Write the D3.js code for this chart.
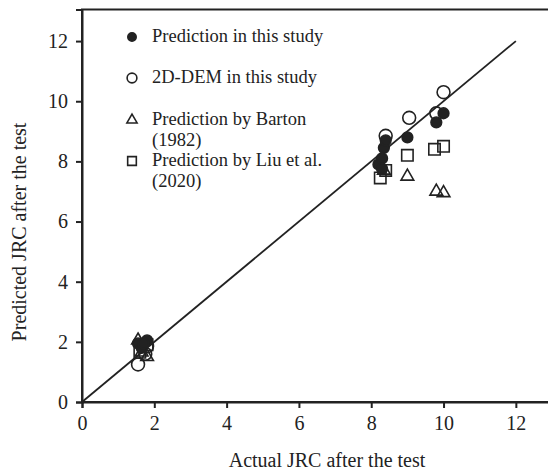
<!DOCTYPE html>
<html>
<head>
<meta charset="utf-8">
<script src="https://cdn.jsdelivr.net/npm/d3@7/dist/d3.min.js"></script>
<style>
  html, body { margin: 0; padding: 0; background: #ffffff; }
  svg { display: block; }
  text { font-family: "Liberation Serif", "Times New Roman", serif; fill: #222; }
</style>
</head>
<body>
<script>
// Actual vs predicted JRC after the shear test
const xTicks = [0, 2, 4, 6, 8, 10, 12];
const yTicks = [0, 2, 4, 6, 8, 10, 12];

// [actual JRC, predicted JRC]
const predThisStudy = [
  [1.55, 1.95], [1.65, 1.8], [1.8, 2.05], [1.7, 1.95],
  [8.2, 7.9], [8.3, 8.1], [8.35, 8.45], [8.4, 8.7], [8.3, 7.75],
  [9.0, 8.8], [9.8, 9.3], [10.0, 9.6]
];
const dem2D = [
  [1.55, 1.25], [1.75, 1.6], [1.8, 1.85],
  [8.4, 8.85], [9.05, 9.45], [9.8, 9.6], [10.0, 10.3]
];
const barton = [
  [1.55, 2.05], [1.8, 1.5], [1.65, 1.65],
  [8.35, 7.7], [9.0, 7.5], [9.8, 7.0], [10.0, 6.95]
];
const liu = [
  [1.6, 1.65], [1.8, 1.9],
  [8.25, 7.45], [8.4, 7.7], [9.0, 8.2], [9.75, 8.4], [10.0, 8.5]
];
const legendLabels = [
  ["Prediction in this study"],
  ["2D-DEM in this study"],
  ["Prediction by Barton", "(1982)"],
  ["Prediction by Liu et al.", "(2020)"]
];
const unityLine = [[0, 0], [12, 12]];

const W = 548, H = 476;
const ink = "#222";

const svg = d3.select("body").append("svg")
  .attr("width", W).attr("height", H);

const x = d3.scaleLinear().domain([0, 13]).range([82, 552]);
const y = d3.scaleLinear().domain([0, 13.05]).range([402, 9.5]);

// frame
svg.append("rect")
  .attr("x", x(0)).attr("y", y(13.05))
  .attr("width", x(13) - x(0)).attr("height", y(0) - y(13.05))
  .attr("fill", "none").attr("stroke", ink).attr("stroke-width", 2);

// axes
const xAxis = svg.append("g")
  .attr("transform", `translate(0,${y(0)})`)
  .call(d3.axisBottom(x).tickValues(xTicks).tickFormat(d3.format("d")).tickSize(6).tickPadding(8));
const yAxis = svg.append("g")
  .attr("transform", `translate(${x(0)},0)`)
  .call(d3.axisLeft(y).tickValues(yTicks).tickFormat(d3.format("d")).tickSize(6).tickPadding(8));

[xAxis, yAxis].forEach(g => {
  g.select(".domain").attr("stroke", ink).attr("stroke-width", 2);
  g.selectAll(".tick line").attr("stroke", ink).attr("stroke-width", 2);
  g.selectAll(".tick text")
    .attr("font-family", "Liberation Serif, Times New Roman, serif")
    .attr("font-size", 20).attr("fill", ink);
});

// 1:1 line
svg.append("path")
  .datum(unityLine)
  .attr("d", d3.line().x(d => x(d[0])).y(d => y(d[1])))
  .attr("stroke", ink).attr("stroke-width", 1.8).attr("fill", "none");

// marker drawers
const sym = (type, size) => d3.symbol().type(type).size(size);

function drawSeries(data, type, size, filled) {
  svg.append("g").selectAll("path")
    .data(data).enter().append("path")
    .attr("transform", d => `translate(${x(d[0])},${y(d[1])})`)
    .attr("d", sym(type, size)())
    .attr("fill", filled ? ink : "#fff")
    .attr("fill-opacity", filled ? 1 : 0)
    .attr("stroke", ink)
    .attr("stroke-width", 1.6);
}

drawSeries(liu, d3.symbolSquare, 130, false);
drawSeries(barton, d3.symbolTriangle, 70, false);
drawSeries(dem2D, d3.symbolCircle, 130, false);
drawSeries(predThisStudy, d3.symbolCircle, 90, true);

// legend
const legendSyms = [
  { type: d3.symbolCircle, size: 55, filled: true, y: 37 },
  { type: d3.symbolCircle, size: 75, filled: false, y: 78 },
  { type: d3.symbolTriangle, size: 45, filled: false, y: 120 },
  { type: d3.symbolSquare, size: 75, filled: false, y: 161 }
];
const lg = svg.append("g");
legendSyms.forEach((s, i) => {
  lg.append("path")
    .attr("transform", `translate(132,${s.y})`)
    .attr("d", sym(s.type, s.size)())
    .attr("fill", s.filled ? ink : "none")
    .attr("stroke", ink).attr("stroke-width", 1.6);
  legendLabels[i].forEach((t, j) => {
    lg.append("text")
      .attr("x", 152).attr("y", s.y + 5 + j * 21)
      .attr("font-size", 18.5)
      .text(t);
  });
});

// axis titles
svg.append("text")
  .attr("x", 327).attr("y", 467)
  .attr("text-anchor", "middle").attr("font-size", 20)
  .text("Actual JRC after the test");
svg.append("text")
  .attr("transform", `translate(26,232) rotate(-90)`)
  .attr("text-anchor", "middle").attr("font-size", 20)
  .text("Predicted JRC after the test");
</script>
</body>
</html>
